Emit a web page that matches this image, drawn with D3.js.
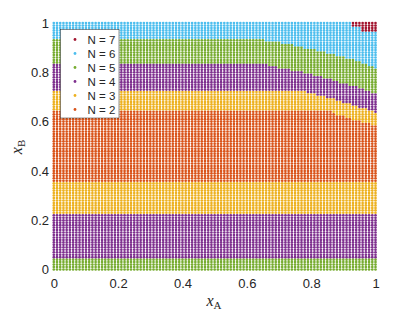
<!DOCTYPE html>
<html>
<head>
<meta charset="utf-8">
<script src="https://cdn.jsdelivr.net/npm/d3@7"></script>
<style>
  html, body { margin: 0; padding: 0; background: #fff; }
  svg { display: block; }
  text { font-family: "Liberation Sans", Arial, Helvetica, sans-serif; fill: #262626; }
</style>
</head>
<body>
<svg id="chart" width="415" height="312"></svg>
<script>
// ---- Data ----
const categories = ["N = 7", "N = 6", "N = 5", "N = 4", "N = 3", "N = 2"];
const nValues = [7, 6, 5, 4, 3, 2];
const colors = ["#A2142F", "#4DBEEE", "#77AC30", "#7E2F8E", "#EDB120", "#D95319"];

// sampled grid of (xA, xB)
const gridX = d3.range(0, 101).map(i => i / 100);
const gridY = d3.range(0, 101).map(i => i / 100);

// boundary knots (xA, xB): lower edge of each region
const bound7 = [[0, 1.01], [0.925, 1.01], [0.93, 0.985], [0.955, 0.985], [0.96, 0.965], [1, 0.965]];
const bound6 = [[0, 0.938], [0.62, 0.938], [0.66, 0.929], [0.72, 0.918], [0.78, 0.899], [0.845, 0.88], [0.91, 0.86], [0.96, 0.84], [1, 0.818]];
const bound5 = [[0, 0.832], [0.665, 0.832], [0.694, 0.82], [0.772, 0.80], [0.838, 0.78], [0.888, 0.76], [0.938, 0.741], [0.985, 0.72], [1, 0.712]];
const bound4 = [[0, 0.73], [0.77, 0.73], [0.79, 0.72], [0.845, 0.70], [0.894, 0.681], [0.946, 0.661], [1, 0.64]];
const bound3 = [[0, 0.642], [0.86, 0.642], [0.871, 0.632], [0.946, 0.604], [1, 0.582]];
const lowerBands = [[0.354, 2], [0.222, 3], [0.043, 4], [-1, 5]];

const xTicks = [0, 0.2, 0.4, 0.6, 0.8, 1];
const xTickLabels = ["0", "0.2", "0.4", "0.6", "0.8", "1"];
const yTicks = [0, 0.2, 0.4, 0.6, 0.8, 1];
const yTickLabels = ["0", "0.2", "0.4", "0.6", "0.8", "1"];

// ---- Helpers ----
function boundAt(knots, x) {
  const xs = knots.map(k => k[0]), ys = knots.map(k => k[1]);
  return d3.scaleLinear().domain(xs).range(ys).clamp(true)(x);
}
function classify(x, y) {
  if (y >= boundAt(bound7, x)) return 7;
  if (y >= boundAt(bound6, x)) return 6;
  if (y >= boundAt(bound5, x)) return 5;
  if (y >= boundAt(bound4, x)) return 4;
  if (y >= boundAt(bound3, x)) return 3;
  for (const [t, n] of lowerBands) if (y >= t) return n;
  return 5;
}

const points = [];
gridY.forEach(y => gridX.forEach(x => points.push({ x, y, n: classify(x, y) })));

// ---- Scales ----
const x = d3.scaleLinear().domain([0, 1]).range([53.8, 375.5]);
const y = d3.scaleLinear().domain([0, 1]).range([269.5, 23]);
const color = d3.scaleOrdinal().domain(nValues).range(colors);

const svg = d3.select("#chart");

// ---- Dots ----
svg.append("g").selectAll("circle").data(points).join("circle")
  .attr("cx", d => x(d.x))
  .attr("cy", d => y(d.y))
  .attr("r", 1.32)
  .attr("fill", d => color(d.n));

// ---- Axes (labels only) ----
const xAxis = d3.axisBottom(x).tickValues(xTicks).tickFormat((d, i) => xTickLabels[i]).tickSize(0).tickPadding(0);
const gx = svg.append("g").attr("transform", "translate(0,279)").call(xAxis);
gx.select(".domain").remove();
gx.selectAll("text").attr("font-size", 13).attr("font-family", null).attr("fill", "#262626").attr("dy", "0.71em");

const yAxis = d3.axisLeft(y).tickValues(yTicks).tickFormat((d, i) => yTickLabels[i]).tickSize(0).tickPadding(0);
const gy = svg.append("g").attr("transform", "translate(49,0)").call(yAxis);
gy.select(".domain").remove();
gy.selectAll("text").attr("font-size", 13).attr("font-family", null).attr("fill", "#262626");

// ---- Axis titles ----
const xl = svg.append("text").attr("x", 214).attr("y", 306).attr("text-anchor", "middle")
  .style("font-family", "'Liberation Serif', 'DejaVu Serif', serif");
xl.append("tspan").attr("font-style", "italic").attr("font-size", 16).text("x");
xl.append("tspan").attr("font-size", 11).attr("dy", 3).text("A");

const yl = svg.append("text").attr("transform", "translate(22,147) rotate(-90)").attr("text-anchor", "middle")
  .style("font-family", "'Liberation Serif', 'DejaVu Serif', serif");
yl.append("tspan").attr("font-style", "italic").attr("font-size", 16).text("x");
yl.append("tspan").attr("font-size", 11).attr("dy", 3).text("B");

// ---- Legend ----
const lg = svg.append("g");
lg.append("rect").attr("x", 60.5).attr("y", 29.5).attr("width", 58.5).attr("height", 88.5)
  .attr("fill", "#fff").attr("stroke", "#262626").attr("stroke-width", 0.5);
const items = lg.selectAll("g.item").data(categories).join("g").attr("class", "item")
  .attr("transform", (d, i) => `translate(0,${39.5 + i * 14})`);
items.append("circle").attr("cx", 75).attr("cy", 0).attr("r", 1.4).attr("fill", (d, i) => colors[i]);
items.append("text").attr("x", 87.5).attr("y", 0).attr("dy", "0.35em").attr("font-size", 11.5).text(d => d);
</script>
</body>
</html>
